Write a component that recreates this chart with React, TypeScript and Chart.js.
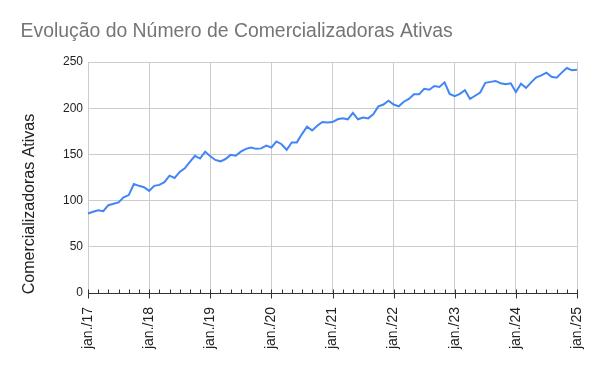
import React, { useEffect, useRef } from "react";
import { Chart, registerables } from "chart.js";

Chart.register(...registerables);

const TITLE = "Evolução do Número de Comercializadoras Ativas";
const Y_TITLE = "Comercializadoras Ativas";
const MONTHS = ["jan.", "fev.", "mar.", "abr.", "mai.", "jun.", "jul.", "ago.", "set.", "out.", "nov.", "dez."];
const YEARS = ["17", "18", "19", "20", "21", "22", "23", "24", "25"];

const v2017 = [86, 88, 89.5, 88.5, 95, 96.5, 98, 103.5, 106, 118, 116, 114.5];
const v2018 = [110.5, 116, 117, 120, 127, 124.5, 131, 135, 142, 148.5, 145.5, 153];
const v2019 = [148, 144, 142.5, 145, 149.5, 148.5, 153, 156, 157.5, 156, 156.5, 159.5];
const v2020 = [157.5, 164, 161, 155, 163, 163, 172, 180, 176, 181, 185, 184.5];
const v2021 = [185, 188, 189, 188, 195, 188, 190, 189, 193.5, 202, 204, 208];
const v2022 = [204, 202, 207, 210, 215, 215, 221, 220, 224, 223, 228, 215.5];
const v2023 = [213, 215.5, 219.5, 210, 213.5, 217, 227.5, 228.5, 229.5, 227, 226, 227];
const v2024 = [217.5, 226.5, 222, 228, 233.5, 235.5, 238.5, 234, 233, 238.5, 243.5, 241];
const v2025 = [241.5];

const values = [...v2017, ...v2018, ...v2019, ...v2020, ...v2021, ...v2022, ...v2023, ...v2024, ...v2025];
const labels: string[] = [];
YEARS.forEach((y, yi) => {
  MONTHS.forEach((m, mi) => {
    if (yi < YEARS.length - 1 || mi === 0) labels.push(m + "/" + y);
  });
});

const FONT = "'Liberation Sans', Arial, sans-serif";

const decorPlugin = {
  id: "decor",
  afterDraw(chart: any) {
    const ctx = chart.ctx;
    const xs = chart.scales.x;
    const area = chart.chartArea;
    ctx.save();
    // title
    ctx.fillStyle = "#757575";
    ctx.font = `19.4px ${FONT}`;
    ctx.textAlign = "left";
    ctx.textBaseline = "alphabetic";
    ctx.fillText(TITLE, 20.5, 37);
    // y title
    ctx.translate(34, 204);
    ctx.rotate(-Math.PI / 2);
    ctx.fillStyle = "#222";
    ctx.font = `16px ${FONT}`;
    ctx.textAlign = "center";
    ctx.fillText(Y_TITLE, 0, 0);
    ctx.restore();
    // tick marks
    ctx.save();
    ctx.strokeStyle = "#333";
    ctx.lineWidth = 1;
    const b = Math.round(area.bottom) + 0.5;
    ctx.beginPath();
    for (let i = 0; i < labels.length; i += 2) {
      const x = Math.round(xs.getPixelForValue(i)) + 0.5;
      ctx.moveTo(x, b - 4);
      ctx.lineTo(x, i % 12 === 0 ? b + 5 : b);
    }
    ctx.stroke();
    ctx.restore();
  },
};

export default function App() {
  const ref = useRef<HTMLCanvasElement>(null);
  useEffect(() => {
    if (!ref.current) return;
    const chart = new Chart(ref.current, {
      type: "line",
      data: {
        labels,
        datasets: [
          {
            data: values,
            borderColor: "#4285F4",
            backgroundColor: "#4285F4",
            borderWidth: 2,
            pointRadius: 0,
            tension: 0,
          },
        ],
      },
      options: {
        animation: false,
        responsive: false,
        layout: { padding: { top: 62, right: 23, left: 0, bottom: 0 } },
        plugins: {
          legend: { display: false },
          title: { display: false },
          tooltip: { enabled: false },
        },
        scales: {
          x: {
            type: "category",
            grid: {
              color: (c: any) => (c.index % 12 === 0 ? "#cccccc" : "rgba(0,0,0,0)"),
              drawTicks: false,
            },
            border: { color: "#333", width: 1 },
            ticks: {
              autoSkip: false,
              minRotation: 90,
              maxRotation: 90,
              padding: 14,
              color: "#222",
              font: { family: FONT, size: 14 },
              callback: (_v: any, i: number) => (i % 12 === 0 ? labels[i] : ""),
            },
            afterFit: (s: any) => {
              s.height = 78;
              s.paddingLeft = 0;
              s.paddingRight = 0;
            },
          },
          y: {
            min: 0,
            max: 250,
            grid: { color: "#cccccc", drawTicks: false },
            border: { display: false },
            ticks: {
              stepSize: 50,
              padding: 5,
              color: "#222",
              font: { family: FONT, size: 12 },
            },
            afterFit: (s: any) => {
              s.width = 88;
              s.paddingTop = 0;
              s.paddingBottom = 0;
            },
          },
        },
      },
      plugins: [decorPlugin],
    });
    return () => chart.destroy();
  }, []);
  return (
    <div style={{ position: "fixed", left: 0, top: 0, width: 600, height: 371, background: "#fff" }}>
      <canvas ref={ref} width={600} height={371} style={{ display: "block" }} />
    </div>
  );
}
